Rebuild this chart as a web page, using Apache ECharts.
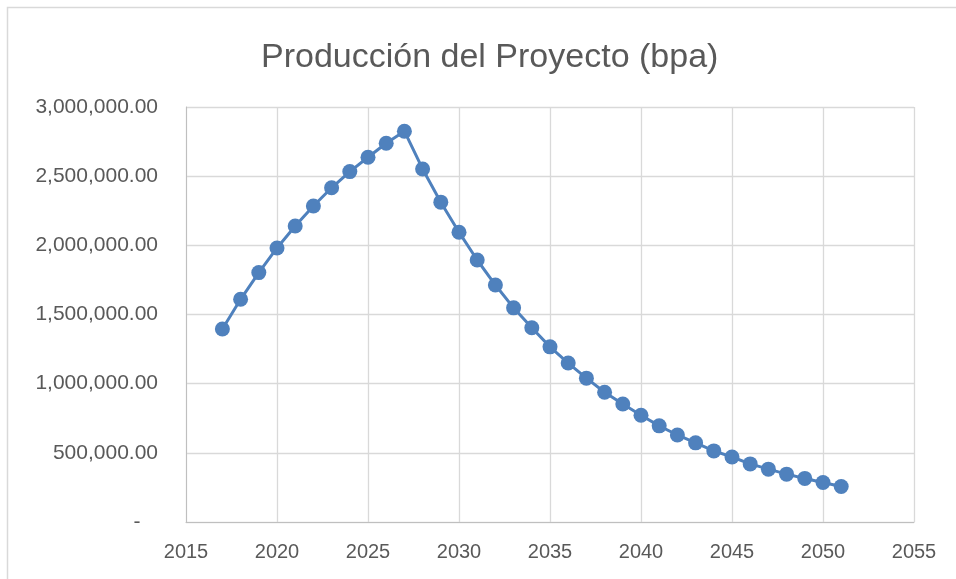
<!DOCTYPE html>
<html>
<head>
<meta charset="utf-8">
<script src="https://cdn.jsdelivr.net/npm/echarts@6/dist/echarts.min.js"></script>
<style>
html,body{margin:0;padding:0;background:#fff;}
#chart{width:956px;height:579px;}
</style>
</head>
<body>
<div id="chart"></div>
<script>
const years = [2017,2018,2019,2020,2021,2022,2023,2024,2025,2026,2027,2028,2029,2030,2031,2032,2033,2034,2035,2036,2037,2038,2039,2040,2041,2042,2043,2044,2045,2046,2047,2048,2049,2050,2051];
const production = [1395000,1610000,1803000,1981000,2140000,2284000,2416000,2533000,2637000,2738000,2825000,2552000,2312000,2095000,1894000,1713000,1548000,1404000,1266000,1149000,1040000,938000,853000,772000,695000,629000,572000,514000,470000,420000,382000,346000,315000,286000,257000];
const xTicks = [2015,2055,5];
const yTicks = [0,3000000,500000];
const title = 'Producción del Proyecto (bpa)';

const chart = echarts.init(document.getElementById('chart'), null, {renderer:'canvas'});
const font = 'Liberation Sans, Arial, sans-serif';
function fmt(v){
  if (v === 0) return '-   ';
  return v.toLocaleString('en-US',{minimumFractionDigits:2, maximumFractionDigits:2});
}
chart.setOption({
  backgroundColor:'#fff',
  animation:false,
  title:{text:title,left:256,top:36,textStyle:{fontFamily:font,fontSize:34,fontWeight:'normal',color:'#595959'}},
  graphic:[{type:'rect',shape:{x:7.5,y:7.5,width:1000,height:1000},style:{fill:'none',stroke:'#d9d9d9',lineWidth:1.5},silent:true}],
  grid:{left:186,right:42,top:107,bottom:57},
  xAxis:{type:'value',min:xTicks[0],max:xTicks[1],interval:xTicks[2],
    axisLine:{show:true,lineStyle:{color:'#bfbfbf',width:1}},
    axisTick:{show:false},
    splitLine:{show:true,lineStyle:{color:'#d9d9d9',width:1.3}},
    axisLabel:{fontFamily:font,fontSize:20,color:'#595959',margin:20,formatter:v=>String(v)}},
  yAxis:{type:'value',min:yTicks[0],max:yTicks[1],interval:yTicks[2],
    axisLine:{show:true,lineStyle:{color:'#bfbfbf',width:1}},
    axisTick:{show:false},
    splitLine:{show:true,lineStyle:{color:'#d9d9d9',width:1.3}},
    axisLabel:{fontFamily:font,fontSize:21,color:'#595959',margin:28,formatter:fmt}},
  series:[{type:'line',data:years.map((y,i)=>[y,production[i]]),
    symbol:'circle',symbolSize:15,showSymbol:true,
    lineStyle:{color:'#4f81bd',width:3},
    itemStyle:{color:'#4f81bd'}}]
});
</script>
</body>
</html>
